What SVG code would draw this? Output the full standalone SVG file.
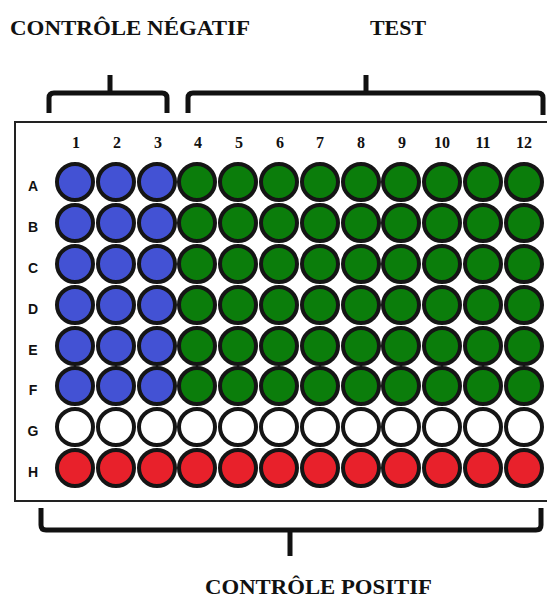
<svg xmlns="http://www.w3.org/2000/svg" width="547" height="600" viewBox="0 0 547 600">
<style>
.lbl{font-family:"Liberation Serif","Times New Roman",serif;font-weight:bold;font-size:22px;fill:#111}
.num{font-family:"Liberation Serif","Times New Roman",serif;font-weight:bold;font-size:16px;fill:#111;text-anchor:middle}
.row{font-family:"Liberation Sans",Arial,sans-serif;font-weight:bold;font-size:14px;fill:#111;text-anchor:middle}
.w{stroke:#151515;stroke-width:4}
.b{fill:#4352d4}.g{fill:#0b7d0b}.r{fill:#e8212b}.e{fill:#fff}
.br{fill:none;stroke:#111;stroke-width:5;stroke-linecap:butt;stroke-linejoin:round}
</style>
<rect width="547" height="600" fill="#fff"/>
<g id="labels">
<text class="lbl" x="10" y="35" textLength="240" lengthAdjust="spacingAndGlyphs">CONTRÔLE NÉGATIF</text>
<text class="lbl" x="370" y="35" textLength="56" lengthAdjust="spacingAndGlyphs">TEST</text>
<text class="lbl" x="205" y="594" textLength="227" lengthAdjust="spacingAndGlyphs">CONTRÔLE POSITIF</text>
</g>
<g id="braces">
<path class="br" d="M49,113 V98 q0,-5 5,-5 H162 q5,0 5,5 V113 M110,93 V75"/>
<path class="br" d="M188,113 V98 q0,-5 5,-5 H538 q5,0 5,5 V115 M366,93 V75"/>
<path class="br" d="M41,508 V525 q0,5 5,5 H536 q5,0 5,-5 V508 M290,530 V556"/>
</g>
<g id="plate">
<rect x="15" y="122" width="540" height="379" fill="#fff" stroke="#222" stroke-width="2"/>
<g id="cols">
<text class="num" x="76" y="148">1</text>
<text class="num" x="117" y="148">2</text>
<text class="num" x="158" y="148">3</text>
<text class="num" x="198" y="148">4</text>
<text class="num" x="239" y="148">5</text>
<text class="num" x="280" y="148">6</text>
<text class="num" x="320" y="148">7</text>
<text class="num" x="361" y="148">8</text>
<text class="num" x="402" y="148">9</text>
<text class="num" x="442" y="148">10</text>
<text class="num" x="483" y="148">11</text>
<text class="num" x="524" y="148">12</text>
</g>
<g id="rows">
<text class="row" x="33" y="191">A</text>
<text class="row" x="33" y="232">B</text>
<text class="row" x="33" y="273">C</text>
<text class="row" x="33" y="314">D</text>
<text class="row" x="33" y="355">E</text>
<text class="row" x="33" y="395">F</text>
<text class="row" x="33" y="436">G</text>
<text class="row" x="33" y="477">H</text>
</g>
<g id="rowA">
<circle class="w b" cx="75" cy="182" r="18"/><circle class="w b" cx="116" cy="182" r="18"/><circle class="w b" cx="157" cy="182" r="18"/>
<circle class="w g" cx="197" cy="182" r="18"/><circle class="w g" cx="238" cy="182" r="18"/><circle class="w g" cx="279" cy="182" r="18"/><circle class="w g" cx="320" cy="182" r="18"/><circle class="w g" cx="361" cy="182" r="18"/><circle class="w g" cx="401" cy="182" r="18"/><circle class="w g" cx="442" cy="182" r="18"/><circle class="w g" cx="483" cy="182" r="18"/><circle class="w g" cx="524" cy="182" r="18"/>
</g>
<g id="rowB">
<circle class="w b" cx="75" cy="223" r="18"/><circle class="w b" cx="116" cy="223" r="18"/><circle class="w b" cx="157" cy="223" r="18"/>
<circle class="w g" cx="197" cy="223" r="18"/><circle class="w g" cx="238" cy="223" r="18"/><circle class="w g" cx="279" cy="223" r="18"/><circle class="w g" cx="320" cy="223" r="18"/><circle class="w g" cx="361" cy="223" r="18"/><circle class="w g" cx="401" cy="223" r="18"/><circle class="w g" cx="442" cy="223" r="18"/><circle class="w g" cx="483" cy="223" r="18"/><circle class="w g" cx="524" cy="223" r="18"/>
</g>
<g id="rowC">
<circle class="w b" cx="75" cy="264" r="18"/><circle class="w b" cx="116" cy="264" r="18"/><circle class="w b" cx="157" cy="264" r="18"/>
<circle class="w g" cx="197" cy="264" r="18"/><circle class="w g" cx="238" cy="264" r="18"/><circle class="w g" cx="279" cy="264" r="18"/><circle class="w g" cx="320" cy="264" r="18"/><circle class="w g" cx="361" cy="264" r="18"/><circle class="w g" cx="401" cy="264" r="18"/><circle class="w g" cx="442" cy="264" r="18"/><circle class="w g" cx="483" cy="264" r="18"/><circle class="w g" cx="524" cy="264" r="18"/>
</g>
<g id="rowD">
<circle class="w b" cx="75" cy="305" r="18"/><circle class="w b" cx="116" cy="305" r="18"/><circle class="w b" cx="157" cy="305" r="18"/>
<circle class="w g" cx="197" cy="305" r="18"/><circle class="w g" cx="238" cy="305" r="18"/><circle class="w g" cx="279" cy="305" r="18"/><circle class="w g" cx="320" cy="305" r="18"/><circle class="w g" cx="361" cy="305" r="18"/><circle class="w g" cx="401" cy="305" r="18"/><circle class="w g" cx="442" cy="305" r="18"/><circle class="w g" cx="483" cy="305" r="18"/><circle class="w g" cx="524" cy="305" r="18"/>
</g>
<g id="rowE">
<circle class="w b" cx="75" cy="346" r="18"/><circle class="w b" cx="116" cy="346" r="18"/><circle class="w b" cx="157" cy="346" r="18"/>
<circle class="w g" cx="197" cy="346" r="18"/><circle class="w g" cx="238" cy="346" r="18"/><circle class="w g" cx="279" cy="346" r="18"/><circle class="w g" cx="320" cy="346" r="18"/><circle class="w g" cx="361" cy="346" r="18"/><circle class="w g" cx="401" cy="346" r="18"/><circle class="w g" cx="442" cy="346" r="18"/><circle class="w g" cx="483" cy="346" r="18"/><circle class="w g" cx="524" cy="346" r="18"/>
</g>
<g id="rowF">
<circle class="w b" cx="75" cy="386" r="18"/><circle class="w b" cx="116" cy="386" r="18"/><circle class="w b" cx="157" cy="386" r="18"/>
<circle class="w g" cx="197" cy="386" r="18"/><circle class="w g" cx="238" cy="386" r="18"/><circle class="w g" cx="279" cy="386" r="18"/><circle class="w g" cx="320" cy="386" r="18"/><circle class="w g" cx="361" cy="386" r="18"/><circle class="w g" cx="401" cy="386" r="18"/><circle class="w g" cx="442" cy="386" r="18"/><circle class="w g" cx="483" cy="386" r="18"/><circle class="w g" cx="524" cy="386" r="18"/>
</g>
<g id="rowG">
<circle class="w e" cx="75" cy="427" r="18"/><circle class="w e" cx="116" cy="427" r="18"/><circle class="w e" cx="157" cy="427" r="18"/>
<circle class="w e" cx="197" cy="427" r="18"/><circle class="w e" cx="238" cy="427" r="18"/><circle class="w e" cx="279" cy="427" r="18"/><circle class="w e" cx="320" cy="427" r="18"/><circle class="w e" cx="361" cy="427" r="18"/><circle class="w e" cx="401" cy="427" r="18"/><circle class="w e" cx="442" cy="427" r="18"/><circle class="w e" cx="483" cy="427" r="18"/><circle class="w e" cx="524" cy="427" r="18"/>
</g>
<g id="rowH">
<circle class="w r" cx="75" cy="468" r="18"/><circle class="w r" cx="116" cy="468" r="18"/><circle class="w r" cx="157" cy="468" r="18"/>
<circle class="w r" cx="197" cy="468" r="18"/><circle class="w r" cx="238" cy="468" r="18"/><circle class="w r" cx="279" cy="468" r="18"/><circle class="w r" cx="320" cy="468" r="18"/><circle class="w r" cx="361" cy="468" r="18"/><circle class="w r" cx="401" cy="468" r="18"/><circle class="w r" cx="442" cy="468" r="18"/><circle class="w r" cx="483" cy="468" r="18"/><circle class="w r" cx="524" cy="468" r="18"/>
</g>
</g>
</svg>
